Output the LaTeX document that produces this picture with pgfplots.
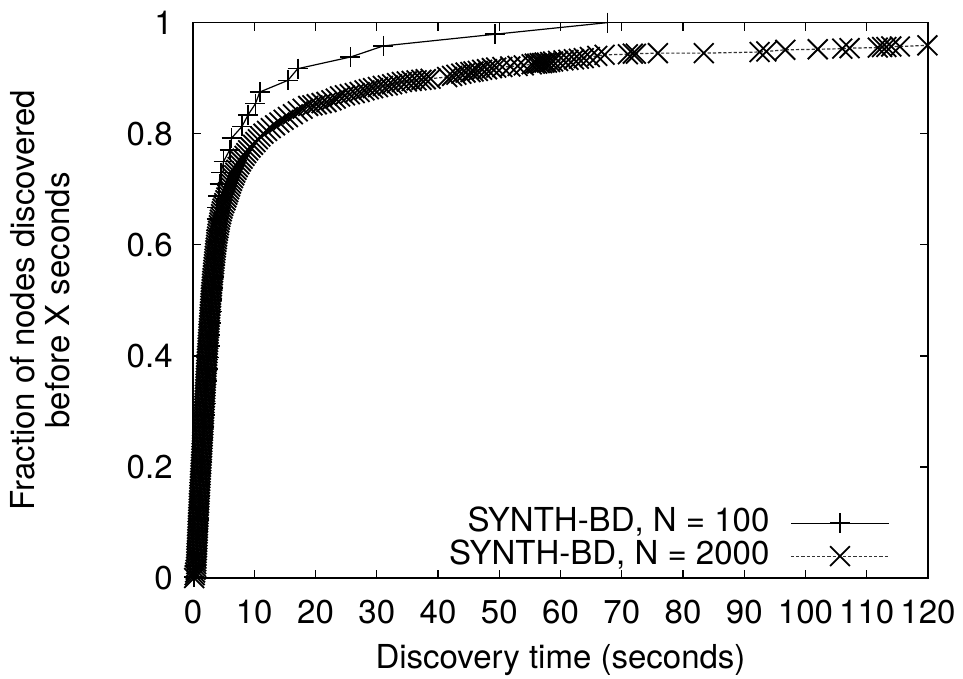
\documentclass[border=0pt]{standalone}
\usepackage{fontspec}
\setmainfont{TeX Gyre Heros}
\usepackage{pgfplots}
\pgfplotsset{compat=1.18}
\begin{document}
\fontsize{16.5bp}{17.5bp}\selectfont
\begin{tikzpicture}
\begin{axis}[
  at={(96.5bp,50.5bp)}, anchor=south west,
  scale only axis,
  width=367.5bp, height=277.7bp,
  xmin=0, xmax=120, ymin=0, ymax=1,
  xtick={0,10,...,120}, ytick={0,0.2,0.4,0.6,0.8,1},
  tick align=inside, major tick length=4bp,
  axis line style={line width=0.9bp},
  every tick/.style={line width=0.7bp, black},
  /pgf/number format/assume math mode=true,
  xticklabel style={yshift=-5.5bp},
  yticklabel style={xshift=-4.5bp},
  xlabel={Discovery time (seconds)},
  xlabel style={at={(axis description cs:0.5,0)}, anchor=base, yshift=-45bp},
  ylabel={Fraction of nodes discovered\\before X seconds},
  ylabel style={align=center, at={([xshift=-76.5bp]axis description cs:0,0.5)}, anchor=center},
  clip=false,
  legend plot pos=right,
  legend cell align=right,
  legend style={draw=none, fill=none, at={([xshift=-16bp]axis description cs:1,0.136)}, anchor=north east, column sep=5bp, row sep=0.2bp,
    nodes={inner xsep=5.5bp, inner ysep=0.5bp, text height=11.8bp, text depth=3.5bp}},
  legend image code/.code={\draw[mark repeat=2,mark phase=2,#1] plot coordinates {(0bp,0bp) (24.5bp,0bp) (49bp,0bp)};},
]
\addplot[black, line width=0.6bp, mark=+, mark size=5bp, mark options={line width=0.8bp}] coordinates {
(0.15,0.002) (0.45,0.022) (0.60,0.043) (0.70,0.064) (0.80,0.085) (0.90,0.106)
(1.00,0.126) (1.10,0.147) (1.20,0.168) (1.30,0.189) (1.45,0.210) (1.55,0.230)
(1.65,0.251) (1.80,0.272) (1.90,0.293) (2.05,0.314) (2.15,0.334) (2.30,0.355)
(2.45,0.376) (2.55,0.397) (2.70,0.418) (2.80,0.438) (2.95,0.459) (3.05,0.480)
(3.15,0.501) (3.30,0.522) (3.40,0.542) (3.50,0.563) (3.60,0.584) (3.70,0.605)
(3.75,0.626) (3.85,0.646) (3.95,0.667) (4.15,0.688) (4.35,0.709) (4.60,0.730)
(5.00,0.750) (6.00,0.771) (6.30,0.792) (8.00,0.813) (9.00,0.834) (10.2,0.854)
(10.9,0.875) (15.5,0.896) (17.1,0.917) (25.7,0.938) (31.1,0.958) (49.3,0.979)
(67.7,1.000)
};
\addlegendentry{SYNTH-BD, N = 100}
\addplot[black!80, line width=0.6bp, dash pattern=on 1.6bp off 1bp, mark=x, mark size=7bp, mark options={solid, black, line width=0.9bp}] coordinates {
(0.20,0.000) (0.28,0.005) (0.35,0.010) (0.43,0.015) (0.50,0.020)
(0.52,0.025) (0.54,0.030) (0.56,0.035) (0.58,0.040) (0.60,0.045) (0.63,0.050)
(0.65,0.055) (0.67,0.060) (0.69,0.065) (0.71,0.070) (0.73,0.075) (0.75,0.080)
(0.77,0.085) (0.79,0.090) (0.81,0.095) (0.83,0.100) (0.85,0.105) (0.88,0.110)
(0.90,0.115) (0.92,0.120) (0.94,0.125) (0.96,0.130) (0.98,0.135) (1.00,0.140)
(1.03,0.145) (1.05,0.150) (1.08,0.155) (1.10,0.160) (1.13,0.165) (1.15,0.170)
(1.18,0.175) (1.20,0.180) (1.23,0.185) (1.25,0.190) (1.28,0.195) (1.30,0.200)
(1.33,0.205) (1.35,0.210) (1.38,0.215) (1.40,0.220) (1.43,0.225) (1.45,0.230)
(1.48,0.235) (1.50,0.240) (1.53,0.245) (1.55,0.250) (1.58,0.255) (1.60,0.260)
(1.63,0.265) (1.65,0.270) (1.68,0.275) (1.70,0.280) (1.73,0.285) (1.75,0.290)
(1.78,0.295) (1.80,0.300) (1.83,0.305) (1.85,0.310) (1.88,0.315) (1.90,0.320)
(1.93,0.325) (1.95,0.330) (1.98,0.335) (2.00,0.340) (2.03,0.345) (2.05,0.350)
(2.08,0.355) (2.10,0.360) (2.13,0.365) (2.15,0.370) (2.18,0.375) (2.20,0.380)
(2.23,0.385) (2.26,0.390) (2.29,0.395) (2.32,0.400) (2.35,0.405) (2.38,0.410)
(2.40,0.415) (2.43,0.420) (2.46,0.425) (2.49,0.430) (2.52,0.435) (2.55,0.440)
(2.58,0.445) (2.61,0.450) (2.64,0.455) (2.67,0.460) (2.70,0.465) (2.73,0.470)
(2.75,0.475) (2.78,0.480) (2.81,0.485) (2.84,0.490) (2.87,0.495) (2.90,0.500)
(2.94,0.505) (2.97,0.510) (3.01,0.515) (3.05,0.520) (3.09,0.525) (3.12,0.530)
(3.16,0.535) (3.20,0.540) (3.24,0.545) (3.29,0.550) (3.33,0.555) (3.38,0.560)
(3.43,0.565) (3.47,0.570) (3.52,0.575) (3.57,0.580) (3.62,0.585) (3.67,0.590)
(3.72,0.595) (3.77,0.600) (3.83,0.605) (3.88,0.610) (3.94,0.615) (4.00,0.620)
(4.07,0.625) (4.14,0.630) (4.22,0.635) (4.30,0.640) (4.39,0.645) (4.48,0.650)
(4.58,0.655) (4.69,0.660) (4.81,0.665) (4.94,0.670) (5.11,0.675) (5.30,0.680)
(5.45,0.685) (5.60,0.690) (5.75,0.695) (5.90,0.700) (6.05,0.705) (6.20,0.710)
(6.37,0.715) (6.54,0.720) (6.72,0.725) (6.90,0.730) (7.10,0.735) (7.30,0.740)
(7.56,0.745) (7.83,0.750) (8.10,0.755) (8.40,0.760) (8.70,0.765) (9.00,0.770)
(9.40,0.775) (9.80,0.780) (10.2,0.785) (10.6,0.790) (11.0,0.795) (11.5,0.800)
(12.1,0.805) (12.7,0.810) (13.4,0.815) (14.1,0.820) (14.8,0.825) (15.5,0.830)
(16.3,0.835) (17.1,0.840) (17.9,0.845) (18.8,0.850)
(19.5,0.851) (20.2,0.853) (21.0,0.855) (21.8,0.857) (22.6,0.860) (23.3,0.863)
(24.0,0.867) (24.8,0.869) (25.6,0.871) (26.4,0.873) (27.2,0.875) (28.0,0.878)
(28.7,0.880) (29.4,0.882) (30.2,0.884) (31.0,0.886) (31.8,0.887) (32.5,0.889)
(33.3,0.891) (34.1,0.893) (34.9,0.894) (35.7,0.895) (36.5,0.896) (37.3,0.897)
(38.0,0.898) (38.8,0.899) (41.5,0.902) (42.3,0.904) (43.0,0.906) (43.8,0.908)
(44.5,0.910) (45.3,0.911) (45.8,0.912) (46.5,0.913) (47.2,0.915) (48.0,0.916)
(48.8,0.918) (49.5,0.919) (50.5,0.920) (51.8,0.921) (53.0,0.922) (54.0,0.923)
(55.3,0.925) (55.8,0.926) (56.2,0.926) (56.6,0.927) (57.0,0.927) (57.4,0.928)
(57.8,0.928) (58.3,0.929) (58.8,0.930) (59.6,0.931) (60.5,0.932) (61.3,0.933)
(62.2,0.934) (63.0,0.935) (63.8,0.936) (64.8,0.938) (66.0,0.940) (67.2,0.942)
(71.0,0.943) (71.8,0.944) (72.3,0.944) (75.9,0.945) (83.4,0.945) (92.5,0.947)
(93.6,0.948) (96.7,0.951) (102.0,0.952) (106.0,0.953) (107.2,0.954) (111.8,0.955)
(112.5,0.956) (113.2,0.956) (114.0,0.957) (115.4,0.957) (119.9,0.959)
};
\addlegendentry{SYNTH-BD, N = 2000}
\end{axis}
\pgfresetboundingbox
\path[use as bounding box] (0,0) rectangle (481.5bp,339.5bp);
\end{tikzpicture}
\end{document}
